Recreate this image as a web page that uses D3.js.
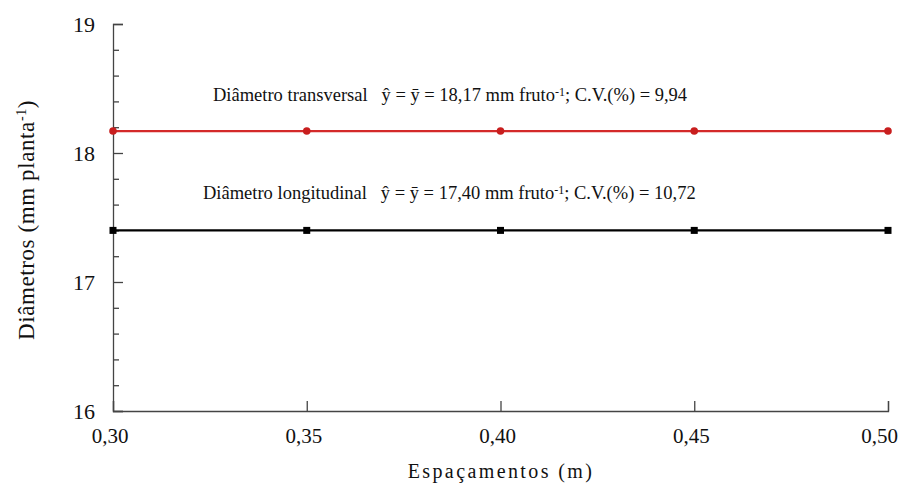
<!DOCTYPE html>
<html>
<head>
<meta charset="utf-8">
<script src="https://cdn.jsdelivr.net/npm/d3@7"></script>
<style>
body { margin: 0; background: #fff; }
svg text { font-family: "Liberation Serif", "Times New Roman", "DejaVu Serif", serif; fill: #111; }
</style>
</head>
<body>
<div id="chart"></div>
<script>
// data
var espacamentos = [0.30, 0.35, 0.40, 0.45, 0.50];
var transversal = [18.17, 18.17, 18.17, 18.17, 18.17];
var longitudinal = [17.40, 17.40, 17.40, 17.40, 17.40];
var yTicks = [16, 17, 18, 19];

var width = 902, height = 491;
var margin = { top: 24, right: 14, bottom: 80, left: 113 };

var svg = d3.select("#chart").append("svg")
 .attr("width", width)
 .attr("height", height);

var x = d3.scaleLinear().domain([0.30, 0.50]).range([margin.left, width - margin.right]);
var y = d3.scaleLinear().domain([16, 19]).range([height - margin.bottom, margin.top]);

var fmt = d => d3.format(".2f")(d).replace(".", ",");

// y axis, ticks inward
svg.append("g")
 .attr("transform", "translate(" + margin.left + ",0)")
 .call(d3.axisRight(y).tickValues(yTicks).tickSize(10).tickFormat(""));
svg.append("g")
 .attr("transform", "translate(" + margin.left + ",0)")
 .call(d3.axisRight(y).tickValues(d3.range(16, 19.01, 0.2).filter(d => Math.abs(d - Math.round(d)) > 0.01)).tickSize(6).tickFormat(""))
 .call(g => g.select(".domain").remove());

svg.selectAll(".ylab")
 .data(yTicks)
 .enter().append("text")
 .attr("x", margin.left - 18)
 .attr("y", d => y(d))
 .attr("dy", "0.35em")
 .attr("text-anchor", "end")
 .style("font-size", "22px")
 .text(d => d);

// x axis, ticks upward
svg.append("g")
 .attr("transform", "translate(0," + y(16) + ")")
 .call(d3.axisTop(x).tickValues(espacamentos).tickSize(10).tickFormat(""));

svg.selectAll(".xlab")
 .data(espacamentos)
 .enter().append("text")
 .attr("x", (d, i) => i == espacamentos.length - 1 ? width - 4 : x(d) - 3)
 .attr("y", y(16) + 32)
 .attr("text-anchor", (d, i) => i == espacamentos.length - 1 ? "end" : "middle")
 .style("font-size", "21px")
 .text(fmt);

svg.selectAll(".domain, .tick line").attr("stroke", "#444").attr("stroke-width", 1.3);

// lines
var line = d3.line().x((d, i) => x(espacamentos[i])).y(d => y(d));

svg.append("path").datum(transversal)
 .attr("d", line).attr("fill", "none").attr("stroke", "#d42a2a").attr("stroke-width", 2.2);
svg.selectAll(".pt").data(transversal).enter().append("circle")
 .attr("cx", (d, i) => x(espacamentos[i])).attr("cy", d => y(d))
 .attr("r", 3.8).attr("fill", "#c81e1e");

svg.append("path").datum(longitudinal)
 .attr("d", line).attr("fill", "none").attr("stroke", "#000").attr("stroke-width", 2.2);
svg.selectAll(".sq").data(longitudinal).enter().append("rect")
 .attr("x", (d, i) => x(espacamentos[i]) - 3.5).attr("y", d => y(d) - 3.5)
 .attr("width", 7).attr("height", 7).attr("fill", "#000");

// equation labels
function eq(g, name, val, cv) {
 g.append("tspan").text(name + "   ");
 g.append("tspan").text("ŷ = ȳ = " + val + " mm fruto");
 g.append("tspan").attr("dy", "-5").style("font-size", "12px").text("-1");
 g.append("tspan").attr("dy", "5").text("; C.V.(%) = " + cv);
}
eq(svg.append("text").attr("x", 213).attr("y", 101).style("font-size", "18.5px").attr("xml:space", "preserve").style("white-space", "pre"),
 "Diâmetro transversal", "18,17", "9,94");
eq(svg.append("text").attr("x", 203).attr("y", 199).style("font-size", "18.5px").style("white-space", "pre"),
 "Diâmetro longitudinal", "17,40", "10,72");

// axis titles
var yt = svg.append("text")
 .attr("transform", "translate(34," + 220 + ") rotate(-90)")
 .attr("text-anchor", "middle")
 .style("font-size", "23px")
 .style("letter-spacing", "0.6px");
yt.append("tspan").text("Diâmetros (mm planta");
yt.append("tspan").attr("dy", "-8").style("font-size", "14px").text("-1");
yt.append("tspan").attr("dy", "8").text(")");

svg.append("text")
 .attr("x", 501).attr("y", 478)
 .attr("text-anchor", "middle")
 .style("font-size", "20px")
 .style("letter-spacing", "2.4px")
 .text("Espaçamentos (m)");
</script>
</body>
</html>
